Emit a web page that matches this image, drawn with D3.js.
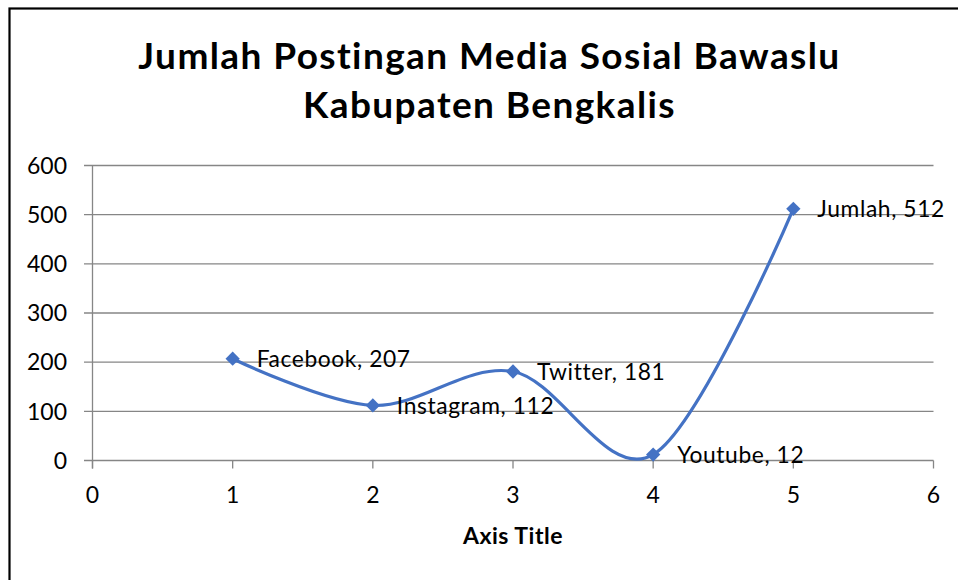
<!DOCTYPE html>
<html><head><meta charset="utf-8">
<script src="https://cdn.jsdelivr.net/npm/d3@7"></script>
<style>
html,body{margin:0;padding:0;background:#fff;}
svg{display:block;font-family:Lato,"Open Sans",sans-serif;}
</style></head>
<body>
<svg id="chart" width="958" height="580"></svg>
<script>
const categories = ["Facebook","Instagram","Twitter","Youtube","Jumlah"];
const xValues = [1,2,3,4,5];
const yValues = [207,112,181,12,512];
const xTicks = [0,1,2,3,4,5,6];
const yTicks = [0,100,200,300,400,500,600];
const titleLines = ["Jumlah Postingan Media Sosial Bawaslu","Kabupaten Bengkalis"];
const xAxisTitle = "Axis Title";

const svg = d3.select("#chart");
const W=958,H=580;
svg.append("rect").attr("x",0).attr("y",0).attr("width",W).attr("height",H).attr("fill","#fff");
svg.append("rect").attr("x",9.5).attr("y",8.5).attr("width",1200).attr("height",1200)
  .attr("fill","none").attr("stroke","#000").attr("stroke-width",2.2);

const x = d3.scaleLinear().domain([0,6]).range([92.5,933.5]);
const y = d3.scaleLinear().domain([0,600]).range([460.5,165.5]);
const grey="#868686";

// title
svg.append("g").selectAll("text").data(titleLines).join("text")
  .attr("x",489.5).attr("y",(d,i)=>69+i*49).attr("text-anchor","middle")
  .attr("font-weight","bold").attr("font-size",37).attr("letter-spacing",1.4)
  .attr("fill","#000").text(d=>d);

// gridlines
svg.append("g").selectAll("line").data(yTicks).join("line")
  .attr("x1",84).attr("x2",x(6)).attr("y1",d=>y(d)).attr("y2",d=>y(d))
  .attr("stroke",grey).attr("stroke-width",1.3);

// y axis line
svg.append("line").attr("x1",x(0)).attr("x2",x(0)).attr("y1",y(600)).attr("y2",y(0)+8)
  .attr("stroke",grey).attr("stroke-width",1.3);

// x axis ticks
svg.append("g").selectAll("line").data(xTicks).join("line")
  .attr("x1",d=>x(d)).attr("x2",d=>x(d)).attr("y1",y(0)).attr("y2",y(0)+8)
  .attr("stroke",grey).attr("stroke-width",1.3);

// y tick labels
svg.append("g").selectAll("text").data(yTicks).join("text")
  .attr("x",67).attr("y",d=>y(d)+8.2).attr("text-anchor","end")
  .attr("font-size",23).attr("fill","#000").text(d=>d);

// x tick labels
svg.append("g").selectAll("text").data(xTicks).join("text")
  .attr("x",d=>x(d)).attr("y",503).attr("text-anchor","middle")
  .attr("font-size",23).attr("fill","#000").text(d=>d);

// axis title
svg.append("text").attr("x",(x(0)+x(6))/2).attr("y",544).attr("text-anchor","middle")
  .attr("font-weight","bold").attr("font-size",23).attr("letter-spacing",0.5)
  .attr("fill","#000").text(xAxisTitle);

const pts = xValues.map((v,i)=>[v,yValues[i],categories[i]]);
const line = d3.line().x(d=>x(d[0])).y(d=>y(d[1])).curve(d3.curveCardinal.tension(0));
svg.append("path").datum(pts).attr("d",line).attr("fill","none")
  .attr("stroke","#4472C4").attr("stroke-width",3.2);

svg.append("g").selectAll("path").data(pts).join("path")
  .attr("d",d3.symbol().type(d3.symbolDiamond2).size(130))
  .attr("transform",d=>`translate(${x(d[0])},${y(d[1])})`)
  .attr("fill","#4472C4");

svg.append("g").selectAll("text").data(pts).join("text")
  .attr("x",d=>x(d[0])+24).attr("y",d=>y(d[1])+8.4)
  .attr("font-size",22.8).attr("letter-spacing",0.6)
  .attr("fill","#000").text(d=>`${d[2]}, ${d[1]}`);
</script>
</body></html>
